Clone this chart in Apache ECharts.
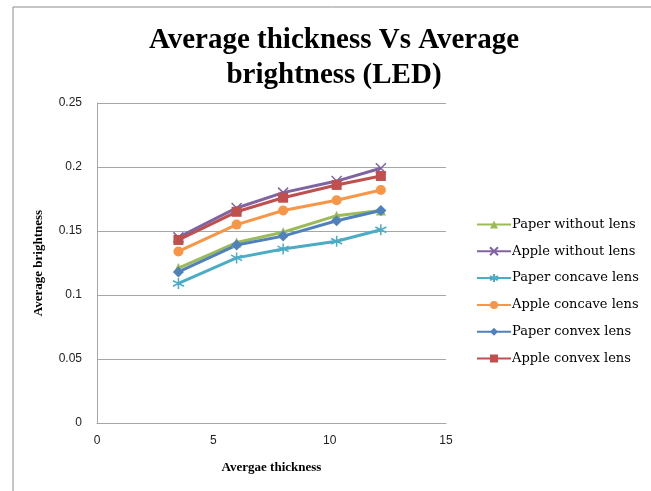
<!DOCTYPE html>
<html lang="en">
<head>
    <meta charset="UTF-8">
    <title>Average thickness Vs Average brightness</title>
    <script src="https://cdn.jsdelivr.net/npm/echarts@6/dist/echarts.min.js"></script>
    <style type="text/css">
        html, body { margin: 0; padding: 0; background: #fff; }
        #chart { width: 651px; height: 491px; }
    </style>
</head>
<body>
<div id="chart"></div>
<script type="text/javascript">
    // thickness values (x)
    var thickness = [3.5, 6, 8, 10.3, 12.2];
    var paperWithout = [0.121, 0.141, 0.149, 0.162, 0.166];
    var appleWithout = [0.145, 0.168, 0.180, 0.189, 0.199];
    var paperConcave = [0.109, 0.129, 0.136, 0.142, 0.151];
    var appleConcave = [0.134, 0.155, 0.166, 0.174, 0.182];
    var paperConvex = [0.118, 0.139, 0.146, 0.158, 0.166];
    var appleConvex = [0.143, 0.165, 0.176, 0.186, 0.193];
    var names = ['Paper without lens', 'Apple without lens', 'Paper concave lens',
        'Apple concave lens', 'Paper convex lens', 'Apple convex lens'];

    function pts(ys) {
        return thickness.map(function (x, i) { return [x, ys[i]]; });
    }

    var crossPath = 'path://M0,0L10,10M10,0L0,10';
    var starPath = 'path://M5,0L5,10M0.7,2.5L9.3,7.5M9.3,2.5L0.7,7.5';

    function line(name, ys, color, symbol, size, stroke) {
        return {
            name: name,
            type: 'line',
            data: pts(ys),
            symbol: symbol,
            symbolSize: size,
            color: color,
            lineStyle: { width: 3, color: color },
            itemStyle: stroke ? { color: color, borderColor: color, borderWidth: 1.5 } : { color: color }
        };
    }

    var chart = echarts.init(document.getElementById('chart'));
    chart.setOption({
        animation: false,
        textStyle: { fontFamily: 'Liberation Sans' },
        title: {
            text: 'Average thickness Vs Average\nbrightness (LED)',
            left: 329,
            textAlign: 'center',
            top: 18,
            textStyle: { fontFamily: 'Liberation Serif', fontWeight: 'bold', fontSize: 29, lineHeight: 35, color: '#000' }
        },
        graphic: [{
            type: 'rect',
            shape: { x: 13, y: 7, width: 700, height: 600 },
            style: { fill: 'none', stroke: '#8c8c8c', lineWidth: 1 }
        }],
        grid: { left: 97, right: 205, top: 103, bottom: 68 },
        legend: {
            orient: 'vertical',
            left: 471,
            top: 213,
            itemWidth: 34,
            itemHeight: 10,
            itemGap: 13.8,
            textStyle: { fontFamily: 'DejaVu Serif', fontSize: 13, color: '#000', padding: [0, 0, 0, -4] },
            data: names
        },
        xAxis: {
            type: 'value',
            min: 0, max: 15, interval: 5,
            name: 'Avergae thickness',
            nameLocation: 'middle',
            nameGap: 38,
            nameTextStyle: { fontFamily: 'Liberation Serif', fontWeight: 'bold', fontSize: 13, color: '#000' },
            axisLine: { lineStyle: { color: '#a6a6a6' } },
            axisTick: { show: false },
            axisLabel: { fontSize: 12, color: '#222', margin: 12 },
            splitLine: { show: false }
        },
        yAxis: {
            type: 'value',
            min: 0, max: 0.25, interval: 0.05,
            name: 'Average brightness',
            nameLocation: 'middle',
            nameGap: 52,
            nameTextStyle: { fontFamily: 'Liberation Serif', fontWeight: 'bold', fontSize: 13, color: '#000' },
            axisLine: { show: true, lineStyle: { color: '#a6a6a6' } },
            axisTick: { show: false },
            axisLabel: { fontSize: 12, color: '#222', margin: 15 },
            splitLine: { lineStyle: { color: '#a6a6a6' } }
        },
        series: [
            line(names[0], paperWithout, '#9bbb59', 'triangle', 10),
            line(names[1], appleWithout, '#8064a2', crossPath, 10, true),
            line(names[2], paperConcave, '#4bacc6', starPath, 11, true),
            line(names[3], appleConcave, '#f79646', 'circle', 10),
            line(names[4], paperConvex, '#4f81bd', 'diamond', 11),
            line(names[5], appleConvex, '#c0504d', 'rect', 10)
        ]
    });
</script>
</body>
</html>
